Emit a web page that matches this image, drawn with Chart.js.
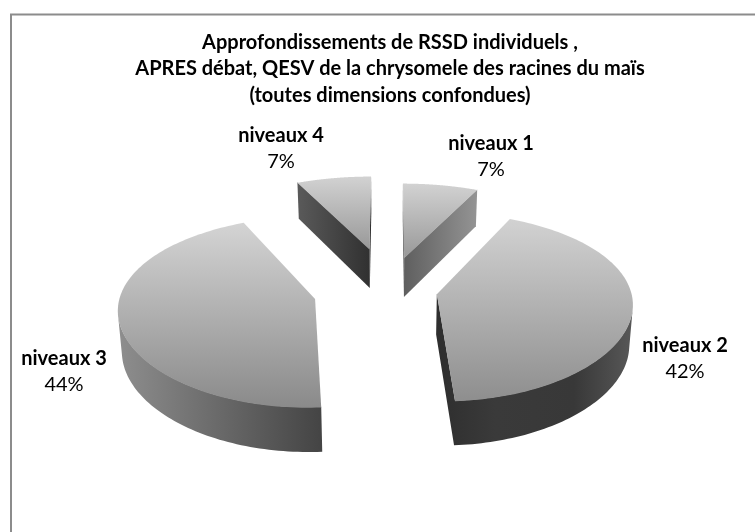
<!DOCTYPE html>
<html>
<head>
<meta charset="utf-8">
<style>html,body{margin:0;padding:0;background:#fff}canvas{display:block}</style>
<script src="https://cdn.jsdelivr.net/npm/chart.js@4/dist/chart.umd.min.js"></script>
</head>
<body>
<canvas id="c" width="755" height="532"></canvas>
<script>
const categories = ['niveaux 1', 'niveaux 2', 'niveaux 3', 'niveaux 4'];
const percentages = [7, 42, 44, 7];
const titleLines = [
  'Approfondissements de RSSD individuels ,',
  'APRES débat, QESV de la chrysomele des racines du maïs',
  '(toutes dimensions confondues)'
];
const explode = [37, 25, 39, 48];
const labelAnchors = [[491, 144], [685, 346], [64, 359], [281, 136]];
const wallStops = [
  [[0, '#5e5e5e'], [1, '#949494']],
  [[0, '#2e2e2e'], [0.3, '#3a3a3a'], [0.7, '#383838'], [1, '#585858']],
  [[0, '#8e8e8e'], [1, '#444444']],
  [[0, '#5a5a5a'], [1, '#303030']]
];
const topStops = [
  [[0, '#d2d2d2'], [1, '#989898']],
  [[0, '#d2d2d2'], [1, '#8e8e8e']],
  [[0, '#d4d4d4'], [1, '#8a8a8a']],
  [[0, '#d2d2d2'], [1, '#989898']]
];

// Perspective view of the pie plane
const view = { cx: 389, cy: 290, rx: 194, ry: 92, px: 0.09, py: 0.13, depth: 40, shrink: 0.985 };
function project(u, v) {
  const sx = 1 / (1 - view.px * v), sy = 1 / (1 - view.py * v);
  return { x: view.cx + view.rx * u * sx, y: view.cy + view.ry * v * sy, s: sy };
}
function lower(pt) {
  return { x: view.cx + (pt.x - view.cx) * view.shrink, y: pt.y + view.depth * (0.35 + 0.65 * pt.s) };
}
function gradient(ctx, x0, y0, x1, y1, stops) {
  const g = ctx.createLinearGradient(x0, y0, x1, y1);
  stops.forEach(s => g.addColorStop(s[0], s[1]));
  return g;
}
function outline(arc) {
  const R = arc.outerRadius;
  const mid = (arc.startAngle + arc.endAngle) / 2;
  const off = arc.options.offset || 0;
  const ox = off * Math.cos(mid) / R, oy = off * Math.sin(mid) / R;
  const pts = [project(ox, oy)];
  const n = 120;
  for (let i = 0; i <= n; i++) {
    const a = arc.startAngle + (arc.endAngle - arc.startAngle) * i / n;
    pts.push(project(ox + Math.cos(a), oy + Math.sin(a)));
  }
  return pts;
}
function isVisible(a, b, la) {
  const dx = b.x - a.x, dy = b.y - a.y;
  return (la.x - a.x) * dy - (la.y - a.y) * dx > 0;
}
function fillPoly(ctx, poly) {
  ctx.beginPath();
  poly.forEach((p, q) => q ? ctx.lineTo(p.x, p.y) : ctx.moveTo(p.x, p.y));
  ctx.closePath();
  ctx.fill();
}
const pie3d = {
  id: 'pie3d',
  beforeDatasetsDraw(chart) {
    const ctx = chart.ctx;
    const arcs = chart.getDatasetMeta(0).data;
    const order = [3, 0, 2, 1];
    ctx.save();
    order.forEach(i => {
      const pts = outline(arcs[i]);
      const low = pts.map(lower);
      const xs = low.map(p => p.x).concat(pts.map(p => p.x));
      const ys = pts.map(p => p.y);
      ctx.fillStyle = gradient(ctx, Math.min(...xs), 0, Math.max(...xs), 0, wallStops[i]);
      // group consecutive visible edges into one polygon, so no seams appear
      let run = [];
      const flush = () => {
        if (!run.length) return;
        const upper = run.map(k => pts[k]);
        const under = run.map(k => low[k]).reverse();
        fillPoly(ctx, upper.map(p => ({ x: p.x, y: p.y - 0.6 })).concat(under));
        run = [];
      };
      for (let k = 0; k < pts.length; k++) {
        const j = (k + 1) % pts.length;
        if (isVisible(pts[k], pts[j], low[k])) {
          if (!run.length) run.push(k);
          run.push(j);
        } else {
          flush();
        }
      }
      flush();
      ctx.fillStyle = gradient(ctx, 0, Math.min(...ys), 0, Math.max(...ys), topStops[i]);
      fillPoly(ctx, pts);
    });
    ctx.restore();
    return false;
  },
  afterDraw(chart) {
    const ctx = chart.ctx;
    const vals = chart.data.datasets[0].data;
    const total = vals.reduce((a, b) => a + b, 0);
    ctx.save();
    ctx.strokeStyle = '#8c8c8c';
    ctx.lineWidth = 2;
    ctx.beginPath();
    ctx.moveTo(11, 532);
    ctx.lineTo(11, 14.5);
    ctx.lineTo(755, 14.5);
    ctx.stroke();
    ctx.fillStyle = '#000';
    ctx.textAlign = 'center';
    ctx.textBaseline = 'middle';
    chart.data.labels.forEach((label, i) => {
      const [x, y] = labelAnchors[i];
      ctx.font = 'bold 20px Lato';
      ctx.fillText(label, x, y);
      ctx.font = '20px Lato';
      ctx.fillText(Math.round(vals[i] / total * 100) + '%', x, y + 26);
    });
    ctx.restore();
  }
};
new Chart(document.getElementById('c'), {
  type: 'pie',
  data: {
    labels: categories,
    datasets: [{
      data: percentages,
      offset: explode,
      borderWidth: 0,
      backgroundColor: ['#b0b0b0', '#a8a8a8', '#a8a8a8', '#b0b0b0']
    }]
  },
  options: {
    responsive: false,
    animation: false,
    radius: 100,
    layout: { padding: { top: 29, left: 25 } },
    plugins: {
      legend: { display: false },
      tooltip: { enabled: false },
      title: {
        display: true,
        text: titleLines,
        color: '#000',
        font: { family: 'Lato', size: 20, weight: 'bold', lineHeight: 1.33 },
        padding: 0
      }
    }
  },
  plugins: [pie3d]
});
</script>
</body>
</html>
